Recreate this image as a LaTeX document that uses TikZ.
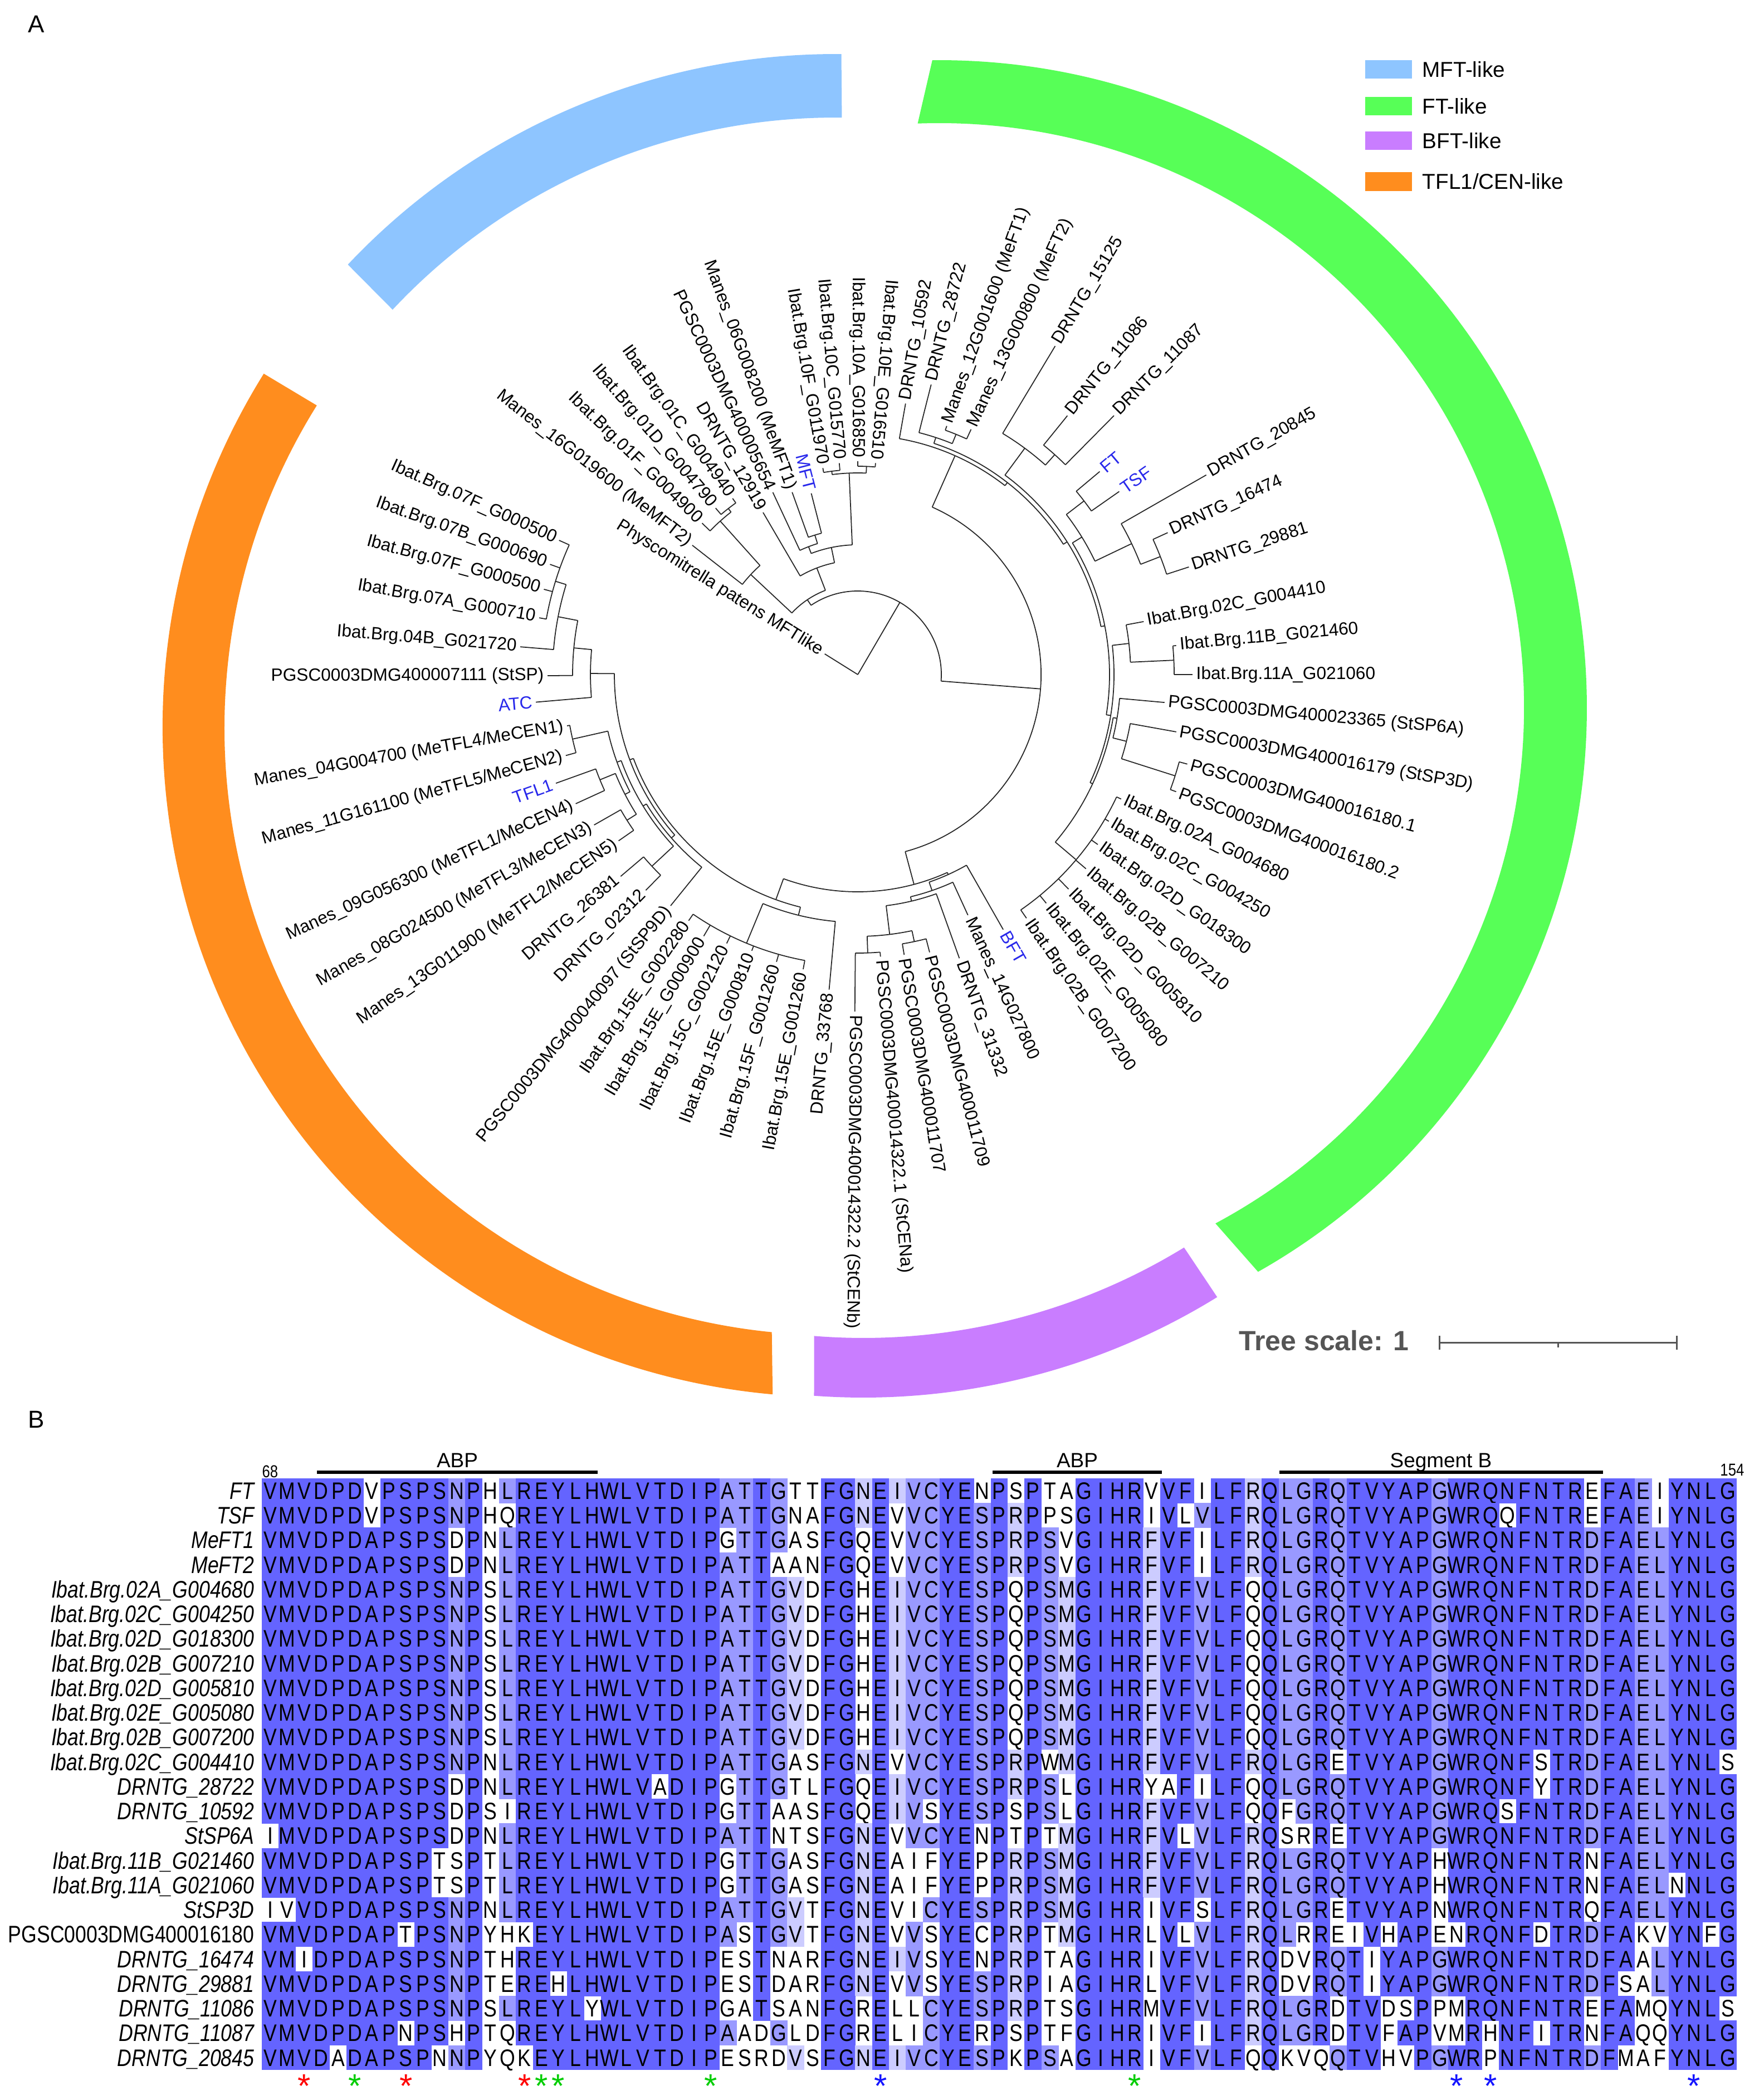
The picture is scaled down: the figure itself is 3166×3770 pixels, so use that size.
\documentclass[tikz,border=0pt]{standalone}
\usepackage{fontspec}
\setmainfont{Liberation Sans}
\newfontfamily\alnfont[FakeStretch=0.83]{Liberation Sans}

\definecolor{mftblue}{RGB}{142,197,255}
\definecolor{ftgreen}{RGB}{87,255,87}
\definecolor{bftpurple}{RGB}{201,125,255}
\definecolor{tflorange}{RGB}{255,141,30}
\definecolor{refblue}{RGB}{40,40,235}
\definecolor{pid1}{RGB}{204,204,255}
\definecolor{pid2}{RGB}{153,153,255}
\definecolor{pid3}{RGB}{100,100,255}
\definecolor{scalegray}{RGB}{85,85,85}
\definecolor{starred}{RGB}{255,0,0}
\definecolor{stargreen}{RGB}{0,205,0}
\definecolor{starblue}{RGB}{20,20,255}

\tikzset{
  branch/.style={line width=0.5pt, draw=black!85},
  leaflabel/.style={font=\fontsize{9}{10}\selectfont, inner sep=0pt},
  residue/.style={font=\alnfont\fontsize{12.2}{13}\selectfont, inner sep=0pt, anchor=base},
  seqname/.style={font=\alnfont\itshape\fontsize{12.2}{13}\selectfont, inner sep=0pt, anchor=base east},
  motifbar/.style={line width=1.6pt},
  motiflabel/.style={font=\fontsize{10.5}{12}\selectfont, inner sep=0pt, anchor=base},
  poslabel/.style={font=\alnfont\fontsize{8.8}{10}\selectfont, inner sep=0pt},
  sitestar/.style={font=\fontsize{17}{18}\selectfont, inner sep=0pt, anchor=base},
  legendtext/.style={font=\fontsize{11}{13}\selectfont, inner sep=0pt, anchor=west},
  panel/.style={font=\fontsize{12.5}{14}\selectfont, inner sep=0pt},
}

% alignment rows and percent identity levels
\ExplSyntaxOn
\int_new:N \g_aln_rows_int
\int_new:N \l_aln_max_int
\int_new:N \l_aln_k_int
\intarray_new:Nn \g_aln_lvl_intarray { 3000 }
\intarray_new:Nn \g_aln_cnt_intarray { 26 }
\cs_generate_variant:Nn \str_item:Nn { c }
\NewDocumentCommand \alnrow { m }
  {
    \int_gincr:N \g_aln_rows_int
    \str_new:c { g_aln_row_ \int_use:N \g_aln_rows_int _str }
    \str_gset:cn { g_aln_row_ \int_use:N \g_aln_rows_int _str } {#1}
  }
\cs_new:Npn \alnchar #1#2 { \str_item:cn { g_aln_row_ #1 _str } {#2} }
\cs_new:Npn \alnlvl #1#2 { \intarray_item:Nn \g_aln_lvl_intarray { (#1 - 1) * 87 + #2 } }
\cs_new:Npn \__aln_idx:nn #1#2
  { \exp_args:Ne \int_from_alph:n { \str_item:cn { g_aln_row_ #1 _str } {#2} } }
\NewDocumentCommand \alncompute { }
  {
    \int_step_inline:nn { 87 }
      {
        \intarray_gzero:N \g_aln_cnt_intarray
        \int_step_inline:nn { \g_aln_rows_int }
          {
            \int_set:Nn \l_aln_k_int { \__aln_idx:nn {####1} {##1} }
            \intarray_gset:Nnn \g_aln_cnt_intarray { \l_aln_k_int }
              { \intarray_item:Nn \g_aln_cnt_intarray { \l_aln_k_int } + 1 }
          }
        \int_zero:N \l_aln_max_int
        \int_step_inline:nn { 26 }
          {
            \int_set:Nn \l_aln_max_int
              { \int_max:nn { \l_aln_max_int } { \intarray_item:Nn \g_aln_cnt_intarray {####1} } }
          }
        \int_step_inline:nn { \g_aln_rows_int }
          {
            \int_set:Nn \l_aln_k_int
              { \intarray_item:Nn \g_aln_cnt_intarray { \__aln_idx:nn {####1} {##1} } }
            \intarray_gset:Nnn \g_aln_lvl_intarray { (####1 - 1) * 87 + ##1 }
              {
                \int_compare:nNnTF { \l_aln_k_int } = { \l_aln_max_int }
                  {
                    \int_compare:nNnTF { \l_aln_k_int } > { 19 } { 3 }
                      {
                        \int_compare:nNnTF { \l_aln_k_int } > { 14 } { 2 }
                          { \int_compare:nNnTF { \l_aln_k_int } > { 9 } { 1 } { 0 } }
                      }
                  }
                  { 0 }
              }
          }
      }
  }
\ExplSyntaxOff

\alnrow{VMVDPDVPSPSNPHLREYLHWLVTDIPATTGTTFGNEIVCYENPSPTAGIHRVVFILFRQLGRQTVYAPGWRQNFNTREFAEIYNLG}
\alnrow{VMVDPDVPSPSNPHQREYLHWLVTDIPATTGNAFGNEVVCYESPRPPSGIHRIVLVLFRQLGRQTVYAPGWRQQFNTREFAEIYNLG}
\alnrow{VMVDPDAPSPSDPNLREYLHWLVTDIPGTTGASFGQEVVCYESPRPSVGIHRFVFILFRQLGRQTVYAPGWRQNFNTRDFAELYNLG}
\alnrow{VMVDPDAPSPSDPNLREYLHWLVTDIPATTAANFGQEVVCYESPRPSVGIHRFVFILFRQLGRQTVYAPGWRQNFNTRDFAELYNLG}
\alnrow{VMVDPDAPSPSNPSLREYLHWLVTDIPATTGVDFGHEIVCYESPQPSMGIHRFVFVLFQQLGRQTVYAPGWRQNFNTRDFAELYNLG}
\alnrow{VMVDPDAPSPSNPSLREYLHWLVTDIPATTGVDFGHEIVCYESPQPSMGIHRFVFVLFQQLGRQTVYAPGWRQNFNTRDFAELYNLG}
\alnrow{VMVDPDAPSPSNPSLREYLHWLVTDIPATTGVDFGHEIVCYESPQPSMGIHRFVFVLFQQLGRQTVYAPGWRQNFNTRDFAELYNLG}
\alnrow{VMVDPDAPSPSNPSLREYLHWLVTDIPATTGVDFGHEIVCYESPQPSMGIHRFVFVLFQQLGRQTVYAPGWRQNFNTRDFAELYNLG}
\alnrow{VMVDPDAPSPSNPSLREYLHWLVTDIPATTGVDFGHEIVCYESPQPSMGIHRFVFVLFQQLGRQTVYAPGWRQNFNTRDFAELYNLG}
\alnrow{VMVDPDAPSPSNPSLREYLHWLVTDIPATTGVDFGHEIVCYESPQPSMGIHRFVFVLFQQLGRQTVYAPGWRQNFNTRDFAELYNLG}
\alnrow{VMVDPDAPSPSNPSLREYLHWLVTDIPATTGVDFGHEIVCYESPQPSMGIHRFVFVLFQQLGRQTVYAPGWRQNFNTRDFAELYNLG}
\alnrow{VMVDPDAPSPSNPNLREYLHWLVTDIPATTGASFGNEVVCYESPRPWMGIHRFVFVLFRQLGRETVYAPGWRQNFSTRDFAELYNLS}
\alnrow{VMVDPDAPSPSDPNLREYLHWLVADIPGTTGTLFGQEIVCYESPRPSLGIHRYAFILFQQLGRQTVYAPGWRQNFYTRDFAELYNLG}
\alnrow{VMVDPDAPSPSDPSIREYLHWLVTDIPGTTAASFGQEIVSYESPSPSLGIHRFVFVLFQQFGRQTVYAPGWRQSFNTRDFAELYNLG}
\alnrow{IMVDPDAPSPSDPNLREYLHWLVTDIPATTNTSFGNEVVCYENPTPTMGIHRFVLVLFRQSRRETVYAPGWRQNFNTRDFAELYNLG}
\alnrow{VMVDPDAPSPTSPTLREYLHWLVTDIPGTTGASFGNEAIFYEPPRPSMGIHRFVFVLFRQLGRQTVYAPHWRQNFNTRNFAELYNLG}
\alnrow{VMVDPDAPSPTSPTLREYLHWLVTDIPGTTGASFGNEAIFYEPPRPSMGIHRFVFVLFRQLGRQTVYAPHWRQNFNTRNFAELNNLG}
\alnrow{IVVDPDAPSPSNPNLREYLHWLVTDIPATTGVTFGNEVICYESPRPSMGIHRIVFSLFRQLGRETVYAPNWRQNFNTRQFAELYNLG}
\alnrow{VMVDPDAPTPSNPYHKEYLHWLVTDIPASTGVTFGNEVVSYECPRPTMGIHRLVLVLFRQLRREIVHAPENRQNFDTRDFAKVYNFG}
\alnrow{VMIDPDAPSPSNPTHREYLHWLVTDIPESTNARFGNEIVSYENPRPTAGIHRIVFVLFRQDVRQTIYAPGWRQNFNTRDFAALYNLG}
\alnrow{VMVDPDAPSPSNPTEREHLHWLVTDIPESTDARFGNEVVSYESPRPIAGIHRLVFVLFRQDVRQTIYAPGWRQNFNTRDFSALYNLG}
\alnrow{VMVDPDAPSPSNPSLREYLYWLVTDIPGATSANFGRELLCYESPRPTSGIHRMVFVLFRQLGRDTVDSPPMRQNFNTREFAMQYNLS}
\alnrow{VMVDPDAPNPSHPTQREYLHWLVTDIPAADGLDFGRELICYERPSPTFGIHRIVFILFRQLGRDTVFAPVMRHNFITRNFAQQYNLG}
\alnrow{VMVDADAPSPNNPYQKEYLHWLVTDIPESRDVSFGNEIVCYESPKPSAGIHRIVFVLFQQKVQQTVHVPGWRPNFNTRDFMAFYNLG}
\alncompute

% circular tree: leaves and clades
\makeatletter
\newcommand\tleaf[5][black]{%
  \expandafter\xdef\csname ta@#2\endcsname{#3}%
  \expandafter\xdef\csname tr@#2\endcsname{#4}%
  \pgfmathsetmacro\t@lr{#4+6}%
  \pgfmathtruncatemacro\t@flip{cos(#3+5)<0}%
  \ifnum\t@flip=1
    \node[leaflabel, text=#1, anchor=east, rotate=#3+180] (lab-#2) at (#3:\t@lr) {#5};%
  \else
    \node[leaflabel, text=#1, anchor=west, rotate=#3] (lab-#2) at (#3:\t@lr) {#5};%
  \fi}
\newcommand\tnode[4][]{%
  \gdef\t@first{}%
  \foreach \t@c in {#4}{\ifx\t@first\@empty\xdef\t@first{\t@c}\fi\xdef\t@last{\t@c}}%
  \edef\t@af{\csname ta@\t@first\endcsname}%
  \edef\t@al{\csname ta@\t@last\endcsname}%
  \ifx\relax#1\relax\pgfmathsetmacro\t@a{(\t@af+\t@al)/2}\else\def\t@a{#1}\fi
  \expandafter\xdef\csname ta@#2\endcsname{\t@a}%
  \expandafter\xdef\csname tr@#2\endcsname{#3}%
  \draw[branch] (\t@af:#3) arc[start angle=\t@af, end angle=\t@al, radius=#3*0.01cm];%
  \foreach \t@c in {#4}{%
    \edef\t@ca{\csname ta@\t@c\endcsname}\edef\t@cr{\csname tr@\t@c\endcsname}%
    \draw[branch] (\t@ca:#3) -- (\t@ca:\t@cr);}%
}
\newcommand\troot[1]{%
  \foreach \t@c in {#1}{%
    \edef\t@ca{\csname ta@\t@c\endcsname}\edef\t@cr{\csname tr@\t@c\endcsname}%
    \draw[branch] (0,0) -- (\t@ca:\t@cr);}%
}
\makeatother

\newcommand\ringband[9]{%
  \begin{scope}[shift={(#2,#3)}, y=0.01cm]
    \fill[#1] (#6:#4) arc[start angle=#6, end angle=#7, radius=#4*0.01cm]
      -- (#9:#5) arc[start angle=#9, end angle=#8, radius=#5*0.01cm] -- cycle;
  \end{scope}}

\begin{document}
\begin{tikzpicture}[x=0.01cm, y=-0.01cm]
  \fill[white] (0,0) rectangle (3166,3770);
  \useasboundingbox (0,0) rectangle (3166,3770);

  \node[panel] (panelA) at (65,43) {A};
  \node[panel] (panelB) at (65,2548) {B};

  % clade rings
  \ringband{mftblue}{1500}{1300}{1203}{1089}{136.7}{89.5}{136.9}{89.4}
  \ringband{ftgreen}{1686}{1271}{1163}{1050}{90.6}{-60.5}{92.1}{-61.8}
  \ringband{bftpurple}{1550}{1300}{1209}{1102}{-58.3}{-94.2}{-58.5}{-94.6}
  \ringband{tflorange}{1494}{1306}{1202}{1091}{148.1}{264.9}{148.0}{264.3}

  % legend
  \fill[mftblue] (2451,108) rectangle (2535,141);
  \fill[ftgreen] (2451,174) rectangle (2535,207);
  \fill[bftpurple] (2451,236) rectangle (2535,269);
  \fill[tflorange] (2451,309) rectangle (2535,343);
  \node[legendtext] (leg-mft) at (2553,125) {MFT-like};
  \node[legendtext] (leg-ft) at (2553,191) {FT-like};
  \node[legendtext] (leg-bft) at (2553,253) {BFT-like};
  \node[legendtext] (leg-tfl) at (2553,326) {TFL1/CEN-like};

  % tree scale
  \node[font=\bfseries\fontsize{14.2}{16}\selectfont, text=scalegray, inner sep=0pt, anchor=west] (scalelabel) at (2224,2407) {Tree scale: 1};
  \coordinate (sb-l) at (2584,2410);
  \coordinate (sb-r) at (3010,2410);
  \draw[scalegray, line width=0.85pt] (sb-l) -- (sb-r);
  \draw[scalegray, line width=0.85pt] (2584,2398) -- (2584,2423) (3010,2398) -- (3010,2423) (2797,2410) -- (2797,2419);

  \begin{scope}[shift={(1540,1211)}, y=0.01cm]
    \tleaf{phy}{148}{70}{Physcomitrella patens MFTlike}
    \tleaf{m57}{142.0}{377}{Manes\_16G019600 (MeMFT2)}
    \tleaf{m58}{135.8}{390}{Ibat.Brg.01F\_G004900}
    \tleaf{m59}{130.5}{393}{Ibat.Brg.01D\_G004790}
    \tleaf{m60}{125.4}{388}{Ibat.Brg.01C\_G004940}
    \tleaf{m61}{120.3}{337}{DRNTG\_12919}
    \tleaf{m62}{115.0}{361}{PGSC0003DMG400005654}
    \tleaf{m63}{109.8}{348}{Manes\_06G008200 (MeMFT1)}
    \tleaf[refblue]{m64}{104.4}{336}{MFT}
    \tleaf{m65}{99.6}{376}{Ibat.Brg.10F\_G011970}
    \tleaf{m66}{95.0}{381}{Ibat.Brg.10C\_G015770}
    \tleaf{m67}{90.0}{383}{Ibat.Brg.10A\_G016850}
    \tleaf{m68}{85.2}{381}{Ibat.Brg.10E\_G016510}
    \tleaf{f0}{80.0}{494}{DRNTG\_10592}
    \tleaf{f1}{75.8}{537}{DRNTG\_28722}
    \tleaf{f2}{70.3}{474}{Manes\_12G001600 (MeFT1)}
    \tleaf{f3}{65.2}{485}{Manes\_13G000800 (MeFT2)}
    \tleaf{f4}{59.0}{688}{DRNTG\_15125}
    \tleaf{f5}{51.0}{598}{DRNTG\_11086}
    \tleaf{f6}{45.3}{654}{DRNTG\_11087}
    \tleaf[refblue]{f7}{40.0}{567}{FT}
    \tleaf[refblue]{f8}{35.0}{573}{TSF}
    \tleaf{f9}{29.8}{721}{DRNTG\_20845}
    \tleaf{f10}{24.6}{612}{DRNTG\_16474}
    \tleaf{f11}{18.0}{625}{DRNTG\_29881}
    \tleaf{f12}{10.5}{522}{Ibat.Brg.02C\_G004410}
    \tleaf{f13}{5.2}{574}{Ibat.Brg.11B\_G021460}
    \tleaf{f14}{0.0}{601}{Ibat.Brg.11A\_G021060}
    \tleaf{f15}{-5.2}{553}{PGSC0003DMG400023365 (StSP6A)}
    \tleaf{f16}{-10.2}{581}{PGSC0003DMG400016179 (StSP3D)}
    \tleaf{f17}{-15.2}{613}{PGSC0003DMG400016180.1}
    \tleaf{f18}{-20.2}{609}{PGSC0003DMG400016180.2}
    \tleaf{f19}{-25.3}{523}{Ibat.Brg.02A\_G004680}
    \tleaf{f20}{-30.3}{522}{Ibat.Brg.02C\_G004250}
    \tleaf{f21}{-35.3}{528}{Ibat.Brg.02D\_G018300}
    \tleaf{f22}{-40.4}{538}{Ibat.Brg.02B\_G007210}
    \tleaf{f23}{-45.5}{540}{Ibat.Brg.02D\_G005810}
    \tleaf{f24}{-50.5}{532}{Ibat.Brg.02E\_G005080}
    \tleaf{f25}{-55.3}{532}{Ibat.Brg.02B\_G007200}
    \tleaf[refblue]{b26}{-60.3}{527}{BFT}
    \tleaf{b27}{-65.4}{475}{Manes\_14G027800}
    \tleaf{b28}{-70.3}{541}{DRNTG\_31332}
    \tleaf{b29}{-75.5}{515}{PGSC0003DMG400011709}
    \tleaf{b30}{-80.6}{510}{PGSC0003DMG400011707}
    \tleaf{b31}{-85.4}{508}{PGSC0003DMG400014322.1 (StCENa)}
    \tleaf{b32}{-90.5}{605}{PGSC0003DMG400014322.2 (StCENb)}
    \tleaf{t33}{-95.2}{568}{DRNTG\_33768}
    \tleaf{t34}{-100.5}{538}{Ibat.Brg.15E\_G001260}
    \tleaf{t35}{-105.8}{536}{Ibat.Brg.15F\_G001260}
    \tleaf{t36}{-111.0}{531}{Ibat.Brg.15E\_G000810}
    \tleaf{t37}{-116.0}{537}{Ibat.Brg.15C\_G002120}
    \tleaf{t38}{-120.5}{545}{Ibat.Brg.15E\_G000900}
    \tleaf{t39}{-124.5}{536}{Ibat.Brg.15E\_G002280}
    \tleaf{t40}{-129.0}{534}{PGSC0003DMG400040097 (StSP9D)}
    \tleaf{t41}{-134.5}{543}{DRNTG\_02312}
    \tleaf{t42}{-139.6}{559}{DRNTG\_26381}
    \tleaf{t43}{-145.2}{523}{Manes\_13G011900 (MeTFL2/MeCEN5)}
    \tleaf{t44}{-150.3}{545}{Manes\_08G024500 (MeTFL3/MeCEN3)}
    \tleaf{t45}{-155.4}{557}{Manes\_09G056300 (MeTFL1/MeCEN4)}
    \tleaf[refblue]{t46}{-160.2}{576}{TFL1}
    \tleaf{t47}{-164.5}{544}{Manes\_11G161100 (MeTFL5/MeCEN2)}
    \tleaf{t48}{-170.0}{530}{Manes\_04G004700 (MeTFL4/MeCEN1)}
    \tleaf[refblue]{t49}{-175.1}{580}{ATC}
    \tleaf{t50}{-179.8}{557}{PGSC0003DMG400007111 (StSP)}
    \tleaf{t51}{-184.7}{608}{Ibat.Brg.04B\_G021720}
    \tleaf{t52}{-190.1}{581}{Ibat.Brg.07A\_G000710}
    \tleaf{t53}{-195.2}{584}{Ibat.Brg.07F\_G000500}
    \tleaf{t54}{-199.7}{587}{Ibat.Brg.07B\_G000690}
    \tleaf{t55}{-204.2}{588}{Ibat.Brg.07F\_G000500}

    % MFT-like
    \tnode{h10a}{368}{m65,m66}
    \tnode{h10b}{374}{m67,m68}
    \tnode{h10}{362}{h10a,h10b}
    \tnode{hA}{262}{m63,m64}
    \tnode{hB}{246}{m62,hA}
    \tnode{hD}{233}{hB,h10}
    \tnode{hE}{205}{m61,hD}
    \tnode{h01a}{378}{m59,m60}
    \tnode{h01}{370}{m58,h01a}
    \tnode{hG}{263}{m57,h01}
    \tnode{hMFT}{162}{hG,hE}
    % FT-like
    \tnode{gme}{466}{f2,f3}
    \tnode{g28}{448}{f1,gme}
    \tnode{gx86}{530}{f5,f6}
    \tnode{g125}{505}{f4,gx86}
    \tnode{gft}{512}{f7,f8}
    \tnode{g16}{583}{f10,f11}
    \tnode{g20}{545}{f9,g16}
    \tnode{gfa}{472}{gft,g20}
    \tnode{g11}{568}{f13,f14}
    \tnode{g02c}{490}{f12,g11}
    \tnode{g161}{598}{f17,f18}
    \tnode{gsp3}{497}{f16,g161}
    \tnode{gsp6}{472}{f15,gsp3}
    \tnode{g02}{514}{f19,f20,f21,f22,f23,f24,f25}
    \tnode{gU}{465}{gsp6,g02}
    \tnode{gV}{460}{g02c,gU}
    \tnode{gW}{452}{gfa,gV}
    \tnode{gZ}{445}{g125,gW}
    \tnode{gY}{437}{g28,gZ}
    \tnode{G1}{430}{f0,gY}
    % BFT-like
    \tnode{bS}{500}{b31,b32}
    \tnode{b79}{490}{b29,b30}
    \tnode{bS2}{470}{b79,bS}
    \tnode{b3}{418}{b28,bS2}
    \tnode{b4}{410}{b27,b3}
    \tnode{BFTc}{394}{b26,b4}
    % TFL1/CEN-like
    \tnode{t15}{522}{t34,t35,t36,t37,t38,t39}
    \tnode{t33n}{445}{t33,t15}
    \tnode{p0226}{505}{t41,t42}
    \tnode{p1308}{490}{t43,t44}
    \tnode{p09T}{500}{t45,t46}
    \tnode{p1104}{525}{t47,t48}
    \tnode{tq1}{470}{p1308,p09T}
    \tnode{tq2}{460}{tq1,p1104}
    \tnode{tq3}{452}{p0226,tq2}
    \tnode{tq4}{445}{t40,tq3}
    \tnode{t07}{568}{t52,t53,t54,t55}
    \tnode{t04}{548}{t51,t07}
    \tnode{tsp}{512}{t50,t04}
    \tnode{tatc}{480}{t49,tsp}
    \tnode{tq5}{437}{tq4,tatc}
    \tnode[-110]{TFLc}{430}{t33n,tq5}
    % backbone
    \tnode[-75]{BT}{390}{BFTc,TFLc}
    \tnode{N2}{329}{G1,BT}
    \tnode{N1}{150}{hMFT,N2}
    \troot{phy,N1}
  \end{scope}

  % alignment header
  \node[poslabel, anchor=base west] (pos-first) at (470,2652) {68};
  \node[poslabel, anchor=base east] (pos-last) at (3132,2649) {154};
  \draw[motifbar] (569,2643) -- (1073,2643);
  \draw[motifbar] (1782,2643) -- (2086,2643);
  \draw[motifbar] (2297,2643) -- (2878,2643);
  \node[motiflabel] (abp1) at (821,2634) {ABP};
  \node[motiflabel] (abp2) at (1934,2634) {ABP};
  \node[motiflabel] (segb) at (2587,2634) {Segment B};

  % sequence names
  \foreach \nm [count=\r] in {FT,TSF,MeFT1,MeFT2,Ibat.Brg.02A\_G004680,Ibat.Brg.02C\_G004250,
      Ibat.Brg.02D\_G018300,Ibat.Brg.02B\_G007210,Ibat.Brg.02D\_G005810,Ibat.Brg.02E\_G005080,
      Ibat.Brg.02B\_G007200,Ibat.Brg.02C\_G004410,DRNTG\_28722,DRNTG\_10592,StSP6A,
      Ibat.Brg.11B\_G021460,Ibat.Brg.11A\_G021060,StSP3D,{\upshape PGSC0003DMG400016180},
      DRNTG\_16474,DRNTG\_29881,DRNTG\_11086,DRNTG\_11087,DRNTG\_20845}
    \node[seqname] (name-\r) at (457,{2647.05+44.25*\r}) {\nm};

  % residues shaded by percentage identity
  \foreach \r in {1,...,24}{
    \foreach \c in {1,...,87}{
      \ifcase\alnlvl{\r}{\c}\relax
      \or \fill[pid1] ({439.57+30.43*\c},{2609.65+44.25*\r}) rectangle +(30.9,44.7);
      \or \fill[pid2] ({439.57+30.43*\c},{2609.65+44.25*\r}) rectangle +(30.9,44.7);
      \or \fill[pid3] ({439.57+30.43*\c},{2609.65+44.25*\r}) rectangle +(30.9,44.7);
      \fi
    }
    \foreach \c in {1,...,87}
      \node[residue] (res-\r-\c) at ({454.785+30.43*\c},{2647.05+44.25*\r}) {\makebox[7.8pt]{\alnchar{\r}{\c}}};
  }

  % marked sites
  \foreach \c/\col in {3/starred,9/starred,16/starred,6/stargreen,17/stargreen,18/stargreen,
      27/stargreen,52/stargreen,37/starblue,71/starblue,73/starblue,85/starblue}
    \node[sitestar, text=\col] (site-\c) at ({454.785+30.43*\c},3765) {*};
\end{tikzpicture}
\end{document}
